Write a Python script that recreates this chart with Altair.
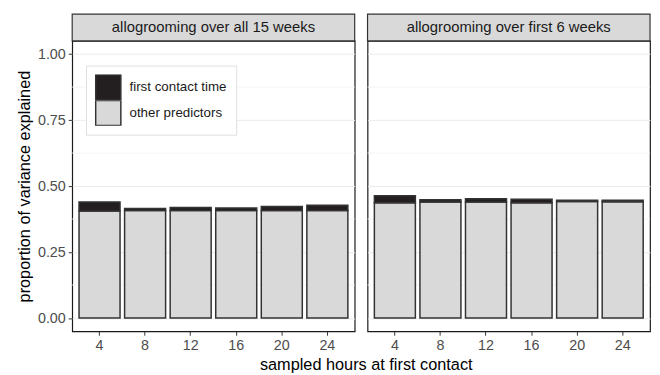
import altair as alt
import pandas as pd

hours = [4, 8, 12, 16, 20, 24]
panels = ["allogrooming over all 15 weeks", "allogrooming over first 6 weeks"]
predictors = ["first contact time", "other predictors"]

other_all15 = [0.406, 0.407, 0.407, 0.407, 0.407, 0.407]
first_all15 = [0.034, 0.008, 0.012, 0.010, 0.016, 0.020]
other_first6 = [0.437, 0.440, 0.440, 0.437, 0.442, 0.441]
first_first6 = [0.026, 0.008, 0.012, 0.013, 0.004, 0.005]

major_ticks = [0.0, 0.25, 0.5, 0.75, 1.0]
minor_ticks = [0.125, 0.375, 0.625, 0.875]

series = {
    panels[0]: (first_all15, other_all15),
    panels[1]: (first_first6, other_first6),
}

rows = []
for p in panels:
    first, other = series[p]
    for h, f, o in zip(hours, first, other):
        rows.append({"panel": p, "hour": h, "predictor": predictors[1], "value": o, "ord": 0})
        rows.append({"panel": p, "hour": h, "predictor": predictors[0], "value": f, "ord": 1})
df = pd.DataFrame(rows)
minor_df = pd.DataFrame({"v": minor_ticks})

W = 286
H = 294
STRIP = 27
FONT = "Liberation Sans"

yscale = alt.Scale(domain=[-0.05, 1.05], nice=False, zero=False)
color = alt.Color(
    "predictor:N",
    scale=alt.Scale(domain=predictors, range=["#231f20", "#d9d9d9"]),
    legend=alt.Legend(
        title=None,
        orient="none",
        legendX=14,
        legendY=25,
        symbolType="square",
        symbolSize=650,
        symbolStrokeColor="#333333",
        symbolStrokeWidth=1.5,
        labelFontSize=13.5,
        labelFont=FONT,
        labelColor="#1a1a1a",
        labelOffset=8,
        clipHeight=26,
        rowPadding=0,
        padding=9,
        fillColor="white",
        strokeColor="#e0e0e0",
    ),
)


def panel(i, p):
    d = df[df["panel"] == p]
    first_panel = i == 0
    yaxis = alt.Axis(
        values=major_ticks,
        format=".2f",
        grid=True,
        gridColor="#ebebeb",
        gridWidth=1,
        domain=False,
        ticks=first_panel,
        labels=first_panel,
        tickColor="#333333",
        tickSize=4,
        labelFontSize=14.5,
        labelColor="#4d4d4d",
        labelFont=FONT,
        labelPadding=3,
        title="proportion of variance explained" if first_panel else None,
        titleFontSize=16.5,
        titleFont=FONT,
        titleFontWeight="normal",
        titleColor="#000000",
        titlePadding=5,
    )
    minor = alt.Chart(minor_df).mark_rule(color="#f4f4f4", strokeWidth=1).encode(
        y=alt.Y("v:Q", scale=yscale, axis=yaxis)
    )
    bars = alt.Chart(d).mark_bar(stroke="#333333", strokeWidth=1.5).encode(
        x=alt.X(
            "hour:O",
            scale=alt.Scale(paddingInner=0.1, paddingOuter=0.15),
            axis=alt.Axis(
                title=None,
                labelAngle=0,
                domain=False,
                tickColor="#333333",
                tickSize=4,
                labelFontSize=14.5,
                labelColor="#4d4d4d",
                labelFont=FONT,
                labelPadding=3,
                grid=False,
            ),
        ),
        y=alt.Y("value:Q", stack="zero", scale=yscale, axis=yaxis),
        color=color,
        order=alt.Order("ord:Q", sort="ascending"),
    )
    strip_df = pd.DataFrame({"label": [p]})
    strip = alt.Chart(strip_df).mark_rect(
        fill="#d9d9d9", stroke="#333333", strokeWidth=1.2, clip=False
    ).encode(
        x=alt.value(0), x2=alt.value(W), y=alt.value(-STRIP), y2=alt.value(0)
    )
    strip_text = alt.Chart(strip_df).mark_text(
        fontSize=15, font=FONT, color="#1a1a1a", baseline="middle", align="center", clip=False
    ).encode(
        x=alt.value(W / 2), y=alt.value(-STRIP / 2), text="label:N"
    )
    return alt.layer(minor, bars, strip, strip_text).properties(width=W, height=H)


chart = alt.hconcat(*[panel(i, p) for i, p in enumerate(panels)], spacing=9).properties(
    padding={"left": 8, "right": 0, "top": 2, "bottom": 0},
    background="white",
    title=alt.TitleParams(
        "sampled hours at first contact",
        orient="bottom",
        anchor="middle",
        fontSize=16.5,
        font=FONT,
        fontWeight="normal",
        color="#000000",
        offset=5,
        dx=33,
    ),
).configure_view(stroke="#1a1a1a", strokeWidth=1.2)

chart.save("out.html", embed_options={"renderer": "svg", "actions": False})
